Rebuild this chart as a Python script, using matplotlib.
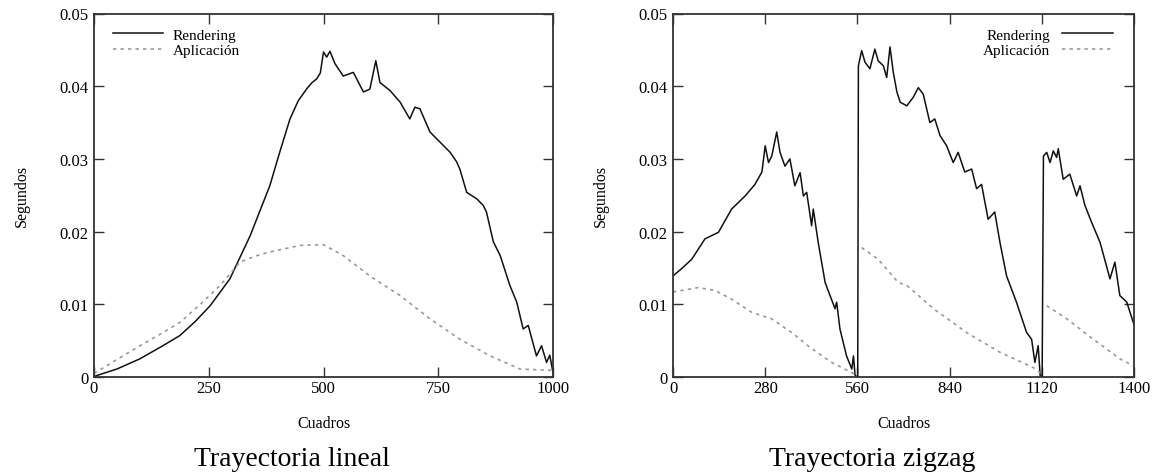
import matplotlib
matplotlib.use("Agg")
import matplotlib.pyplot as plt
import numpy as np

plt.rcParams["font.family"] = ["Liberation Serif", "DejaVu Serif"]

# --- Trayectoria lineal ---
lin_render_x = [0, 6, 50, 100, 150, 187, 220, 253, 296, 340, 383, 405, 427, 445, 463,
                475, 485, 493, 500, 507, 514, 525, 543, 565, 587, 601, 614, 623, 645,
                667, 688, 699, 710, 732, 754, 776, 790, 797, 812, 834, 848, 855, 870,
                885, 906, 921, 935, 946, 964, 975, 986, 993, 1000]
lin_render_y = [0.0, 0.0002, 0.0011, 0.0025, 0.0043, 0.0057, 0.0076, 0.0098, 0.0135,
                0.0194, 0.0263, 0.0310, 0.0355, 0.0380, 0.0396, 0.0405, 0.0410, 0.0418,
                0.0447, 0.0440, 0.0448, 0.0431, 0.0414, 0.0419, 0.0392, 0.0396, 0.0435,
                0.0405, 0.0394, 0.0378, 0.0355, 0.0371, 0.0369, 0.0337, 0.0323, 0.0309,
                0.0296, 0.0286, 0.0254, 0.0245, 0.0236, 0.0227, 0.0186, 0.0167, 0.0126,
                0.0103, 0.0066, 0.0071, 0.0029, 0.0043, 0.0020, 0.0030, 0.0006]
lin_app_x = [0, 50, 100, 150, 187, 230, 275, 318, 350, 383, 449, 500, 543, 601, 667,
             732, 797, 863, 928, 1000]
lin_app_y = [0.0005, 0.0024, 0.0043, 0.0061, 0.0075, 0.0099, 0.0126, 0.0158, 0.0166,
             0.0172, 0.0181, 0.0182, 0.0167, 0.0139, 0.0112, 0.0080, 0.0052, 0.0029,
             0.0011, 0.0009]

# --- Trayectoria zigzag ---
zig_render_x = [0, 26, 57, 97, 138, 178, 219, 249, 270, 280, 290, 300, 315, 325, 340,
                355, 370, 386, 396, 406, 421, 426, 441, 462, 492, 497, 507, 527, 543,
                548, 553, 561,
                563, 573, 583, 598, 613, 623, 639, 649, 659, 669, 680, 690, 710, 730,
                745, 760, 780, 795, 811, 831, 851, 866, 886, 907, 922, 937, 957, 977,
                993, 1013, 1043, 1074, 1089, 1099, 1109, 1115, 1121,
                1125, 1135, 1145, 1155, 1165, 1170, 1185, 1205, 1226, 1236, 1251, 1271,
                1297, 1327, 1342, 1357, 1378, 1400]
zig_render_y = [0.0139, 0.0149, 0.0162, 0.0190, 0.0199, 0.0231, 0.0249, 0.0265, 0.0282,
                0.0318, 0.0295, 0.0304, 0.0337, 0.0309, 0.0290, 0.0300, 0.0263, 0.0281,
                0.0249, 0.0254, 0.0208, 0.0231, 0.0185, 0.0130, 0.0094, 0.0103, 0.0066,
                0.0029, 0.0011, 0.0029, 0.0002, 0.0,
                0.0428, 0.0449, 0.0433, 0.0424, 0.0451, 0.0435, 0.0428, 0.0412, 0.0454,
                0.0419, 0.0392, 0.0378, 0.0373, 0.0385, 0.0398, 0.0389, 0.0350, 0.0355,
                0.0332, 0.0318, 0.0295, 0.0309, 0.0282, 0.0286, 0.0259, 0.0265, 0.0217,
                0.0227, 0.0185, 0.0139, 0.0103, 0.0061, 0.0052, 0.0020, 0.0043, 0.0002,
                0.0,
                0.0304, 0.0309, 0.0295, 0.0311, 0.0302, 0.0314, 0.0272, 0.0279, 0.0249,
                0.0263, 0.0236, 0.0213, 0.0185, 0.0135, 0.0158, 0.0112, 0.0103, 0.0072]
zig_app_x = [0, 77, 128, 178, 239, 300, 361, 421, 482, 543, 556,
             573, 623, 684, 710, 791, 892, 993, 1094, 1115,
             1135, 1196, 1276, 1357, 1400]
zig_app_y = [0.0117, 0.0123, 0.0119, 0.0107, 0.0089, 0.0080, 0.0061, 0.0039, 0.0020,
             0.0006, 0.0003,
             0.0178, 0.0162, 0.0130, 0.0126, 0.0094, 0.0061, 0.0034, 0.0013, 0.0006,
             0.0098, 0.0080, 0.0052, 0.0025, 0.0015]
zig_app_breaks = [560, 1120]

y_ticks = [0, 0.01, 0.02, 0.03, 0.04, 0.05]
y_ticklabels = ["0", "0.01", "0.02", "0.03", "0.04", "0.05"]
lin_xticks = [0, 250, 500, 750, 1000]
zig_xticks = [0, 280, 560, 840, 1120, 1400]

RENDER_KW = dict(color="#111111", lw=1.1)
APP_KW = dict(color="#999999", lw=1.2, linestyle=(0, (2.0, 2.5)))


def with_breaks(xs, ys, breaks):
    xo, yo = [], []
    for i, (x, y) in enumerate(zip(xs, ys)):
        if i > 0 and any(xs[i - 1] < b <= x for b in breaks):
            xo.append(np.nan)
            yo.append(np.nan)
        xo.append(x)
        yo.append(y)
    return xo, yo


def style_axes(ax, xmax, xticks):
    ax.set_xlim(0, xmax)
    ax.set_ylim(0, 0.05)
    ax.set_xticks(xticks)
    ax.set_xticklabels([str(t) for t in xticks])
    ax.set_yticks(y_ticks)
    ax.set_yticklabels(y_ticklabels)
    ax.tick_params(direction="in", length=7, width=1.0, color="#333333",
                   top=True, right=True, labelsize=12, pad=4)
    ax.tick_params(axis="x", pad=2)
    for s in ax.spines.values():
        s.set_linewidth(1.3)
        s.set_color("#333333")
    ax.set_xlabel("Cuadros", fontsize=11.5, labelpad=14)
    ax.set_ylabel("Segundos", fontsize=11.5, labelpad=21)


fig = plt.figure(figsize=(11.59, 4.77), dpi=100)
ax1 = fig.add_axes([94 / 1159, 99 / 477, 459 / 1159, 363.5 / 477])
ax2 = fig.add_axes([673 / 1159, 99 / 477, 461 / 1159, 363.5 / 477])

ax1.plot(lin_render_x, lin_render_y, label="Rendering", **RENDER_KW)
ax1.plot(lin_app_x, lin_app_y, label="Aplicación", **APP_KW)
style_axes(ax1, 1000, lin_xticks)
ax1.legend(loc="upper left", bbox_to_anchor=(0.041, 0.96), frameon=False,
           fontsize=11, handlelength=3.3, handletextpad=0.6, labelspacing=0.1,
           borderpad=0, borderaxespad=0)

ax2.plot(zig_render_x, zig_render_y, label="Rendering", **RENDER_KW)
zx, zy = with_breaks(zig_app_x, zig_app_y, zig_app_breaks)
ax2.plot(zx, zy, label="Aplicación", **APP_KW)
style_axes(ax2, 1400, zig_xticks)
ax2.legend(loc="upper right", bbox_to_anchor=(0.954, 0.96), frameon=False,
           fontsize=11, handlelength=3.3, handletextpad=0.8, labelspacing=0.1,
           borderpad=0, borderaxespad=0, markerfirst=False)

fig.text(292 / 1159, 1 - 460 / 477, "Trayectoria lineal", fontsize=20,
         ha="center", va="center")
fig.text(872 / 1159, 1 - 460 / 477, "Trayectoria zigzag", fontsize=20,
         ha="center", va="center")

fig.savefig("out.png", dpi=100, facecolor="white")
